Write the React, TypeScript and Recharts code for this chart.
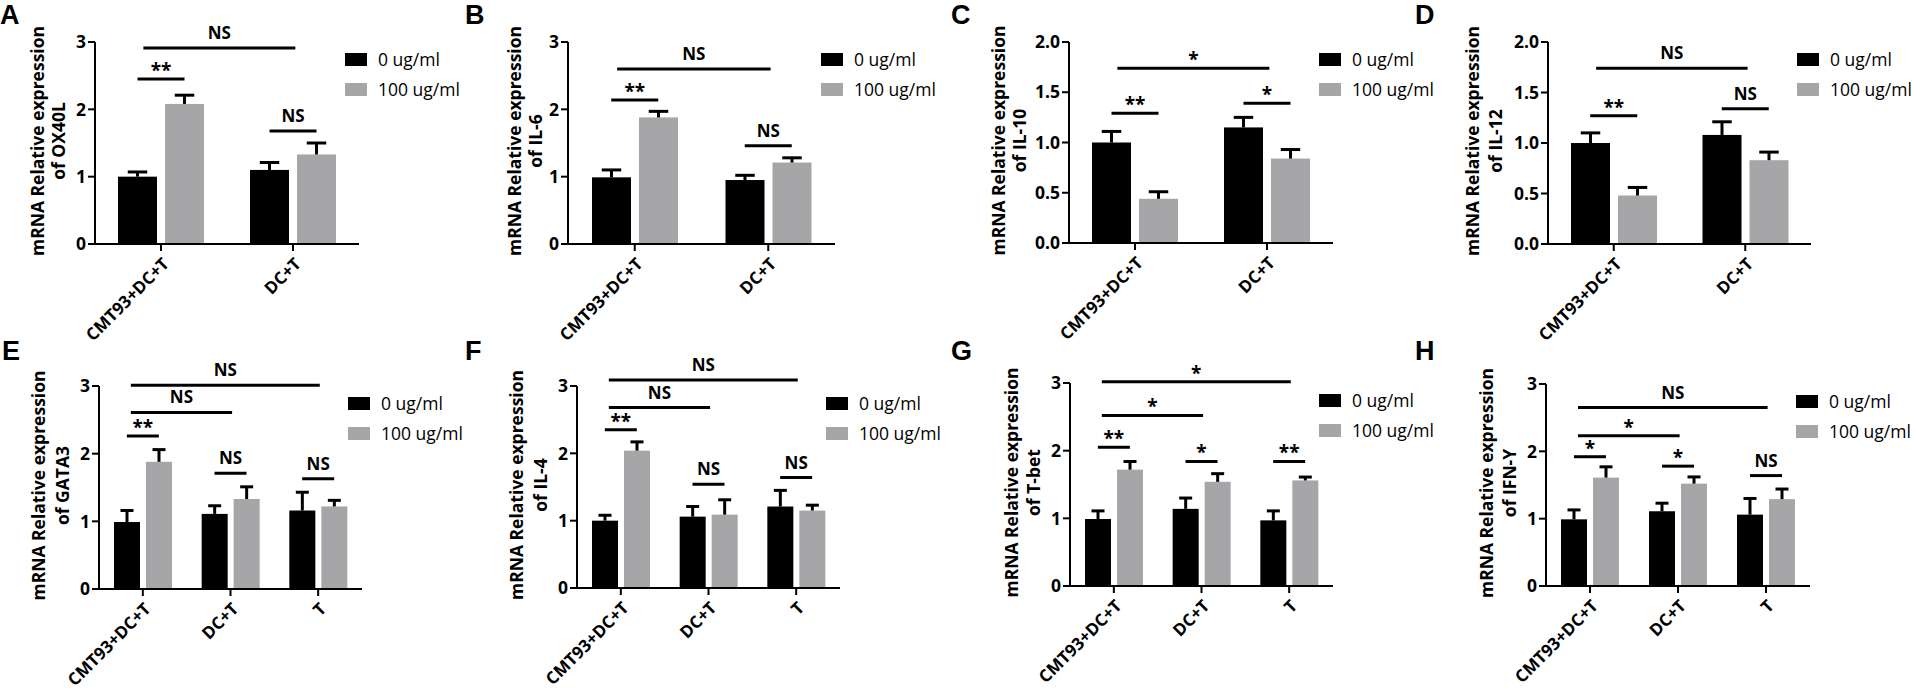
import React from "react";
import {
  BarChart,
  Bar,
  XAxis,
  YAxis,
  Legend,
  ReferenceLine,
} from "recharts";

const FONT = "'Open Sans', 'DejaVu Sans', sans-serif";
const BLACK = "#000000";
const GREY = "#a6a6a9";

const GROUPS_2 = ["CMT93+DC+T", "DC+T"];
const GROUPS_3 = ["CMT93+DC+T", "DC+T", "T"];
const DOSES = ["0 ug/ml", "100 ug/ml"];

// A  OX40L
const ox40l0 = [1.0, 1.1];
const ox40l0Sd = [0.07, 0.11];
const ox40l100 = [2.08, 1.33];
const ox40l100Sd = [0.13, 0.17];
const ox40lSig = [
  { from: 0, to: 0, y: 2.45, text: "**" },
  { from: 0, to: 1, y: 2.91, text: "NS" },
  { from: 1, to: 1, y: 1.68, text: "NS" },
];

// B  IL-6
const il6_0 = [0.99, 0.95];
const il6_0Sd = [0.11, 0.07];
const il6_100 = [1.88, 1.21];
const il6_100Sd = [0.09, 0.07];
const il6Sig = [
  { from: 0, to: 0, y: 2.14, text: "**" },
  { from: 0, to: 1, y: 2.6, text: "NS" },
  { from: 1, to: 1, y: 1.46, text: "NS" },
];

// C  IL-10
const il10_0 = [1.0, 1.15];
const il10_0Sd = [0.11, 0.1];
const il10_100 = [0.44, 0.84];
const il10_100Sd = [0.07, 0.09];
const il10Sig = [
  { from: 0, to: 0, y: 1.29, text: "**" },
  { from: 0, to: 1, y: 1.74, text: "*" },
  { from: 1, to: 1, y: 1.39, text: "*" },
];

// D  IL-12
const il12_0 = [1.0, 1.08];
const il12_0Sd = [0.1, 0.13];
const il12_100 = [0.48, 0.83];
const il12_100Sd = [0.08, 0.08];
const il12Sig = [
  { from: 0, to: 0, y: 1.27, text: "**" },
  { from: 0, to: 1, y: 1.74, text: "NS" },
  { from: 1, to: 1, y: 1.34, text: "NS" },
];

// E  GATA3
const gata3_0 = [0.99, 1.11, 1.16];
const gata3_0Sd = [0.17, 0.12, 0.27];
const gata3_100 = [1.88, 1.33, 1.22];
const gata3_100Sd = [0.18, 0.18, 0.09];
const gata3Sig = [
  { from: 0, to: 0, y: 2.26, text: "**" },
  { from: 0, to: 1, y: 2.61, text: "NS" },
  { from: 0, to: 2, y: 3.01, text: "NS" },
  { from: 1, to: 1, y: 1.71, text: "NS" },
  { from: 2, to: 2, y: 1.63, text: "NS" },
];

// F  IL-4
const il4_0 = [1.0, 1.06, 1.21];
const il4_0Sd = [0.08, 0.15, 0.24];
const il4_100 = [2.04, 1.09, 1.15];
const il4_100Sd = [0.13, 0.22, 0.08];
const il4Sig = [
  { from: 0, to: 0, y: 2.35, text: "**" },
  { from: 0, to: 1, y: 2.68, text: "NS" },
  { from: 0, to: 2, y: 3.09, text: "NS" },
  { from: 1, to: 1, y: 1.54, text: "NS" },
  { from: 2, to: 2, y: 1.64, text: "NS" },
];

// G  T-bet
const tbet0 = [0.99, 1.14, 0.97];
const tbet0Sd = [0.12, 0.16, 0.14];
const tbet100 = [1.72, 1.54, 1.56];
const tbet100Sd = [0.12, 0.12, 0.05];
const tbetSig = [
  { from: 0, to: 0, y: 2.05, text: "**" },
  { from: 0, to: 1, y: 2.52, text: "*" },
  { from: 0, to: 2, y: 3.02, text: "*" },
  { from: 1, to: 1, y: 1.84, text: "*" },
  { from: 2, to: 2, y: 1.84, text: "**" },
];

// H  IFN-Y
const ifng0 = [0.99, 1.11, 1.06];
const ifng0Sd = [0.14, 0.12, 0.24];
const ifng100 = [1.61, 1.52, 1.29];
const ifng100Sd = [0.16, 0.1, 0.15];
const ifngSig = [
  { from: 0, to: 0, y: 1.92, text: "*" },
  { from: 0, to: 1, y: 2.23, text: "*" },
  { from: 0, to: 2, y: 2.65, text: "NS" },
  { from: 1, to: 1, y: 1.78, text: "*" },
  { from: 2, to: 2, y: 1.64, text: "NS" },
];

const TICKS_3 = [0, 1, 2, 3];
const TICKS_2 = [0, 0.5, 1, 1.5, 2];

const rows = (groups, c, cSd, t, tSd) =>
  groups.map((g, i) => ({
    group: g,
    ctrl: c[i],
    ctrlSd: cSd[i],
    treat: t[i],
    treatSd: tSd[i],
  }));

const Y_W = 95;

const panels = [
  { letter: "A", lx: 0, ly: 0, gene: "OX40L", groups: GROUPS_2, data: rows(GROUPS_2, ox40l0, ox40l0Sd, ox40l100, ox40l100Sd), sig: ox40lSig, ticks: TICKS_3, title: [58, 37], plotLeft: 95, plotTop: 42, plotW: 264, plotH: 202, chartTop: 0, chartH: 354 },
  { letter: "B", lx: 465, ly: 0, gene: "IL-6", groups: GROUPS_2, data: rows(GROUPS_2, il6_0, il6_0Sd, il6_100, il6_100Sd), sig: il6Sig, ticks: TICKS_3, title: [54, 33], plotLeft: 568, plotTop: 42, plotW: 267, plotH: 202, chartTop: 0, chartH: 354 },
  { letter: "C", lx: 951, ly: 0, gene: "IL-10", groups: GROUPS_2, data: rows(GROUPS_2, il10_0, il10_0Sd, il10_100, il10_100Sd), sig: il10Sig, ticks: TICKS_2, title: [71, 50], plotLeft: 1069, plotTop: 42, plotW: 264, plotH: 201, chartTop: 0, chartH: 354 },
  { letter: "D", lx: 1415, ly: 0, gene: "IL-12", groups: GROUPS_2, data: rows(GROUPS_2, il12_0, il12_0Sd, il12_100, il12_100Sd), sig: il12Sig, ticks: TICKS_2, title: [76, 53], plotLeft: 1548, plotTop: 42, plotW: 263, plotH: 202, chartTop: 0, chartH: 354 },
  { letter: "E", lx: 2, ly: 336, gene: "GATA3", groups: GROUPS_3, data: rows(GROUPS_3, gata3_0, gata3_0Sd, gata3_100, gata3_100Sd), sig: gata3Sig, ticks: TICKS_3, title: [61, 37], plotLeft: 99, plotTop: 386, plotW: 263, plotH: 203, chartTop: 340, chartH: 353 },
  { letter: "F", lx: 465, ly: 336, gene: "IL-4", groups: GROUPS_3, data: rows(GROUPS_3, il4_0, il4_0Sd, il4_100, il4_100Sd), sig: il4Sig, ticks: TICKS_3, title: [61, 37], plotLeft: 577, plotTop: 386, plotW: 263, plotH: 202, chartTop: 340, chartH: 353 },
  { letter: "G", lx: 951, ly: 336, gene: "T-bet", groups: GROUPS_3, data: rows(GROUPS_3, tbet0, tbet0Sd, tbet100, tbet100Sd), sig: tbetSig, ticks: TICKS_3, title: [59, 37], plotLeft: 1070, plotTop: 383, plotW: 263, plotH: 203, chartTop: 340, chartH: 353 },
  { letter: "H", lx: 1415, ly: 336, gene: "IFN-Y", groups: GROUPS_3, data: rows(GROUPS_3, ifng0, ifng0Sd, ifng100, ifng100Sd), sig: ifngSig, ticks: TICKS_3, title: [60, 37], plotLeft: 1546, plotTop: 384, plotW: 264, plotH: 202, chartTop: 340, chartH: 353 },
];

// bar with an upward-only SD whisker, length taken from the bar's own px/unit
const barWithSd = (key, sdKey) => (props) => {
  const { x, y, width, height, fill, payload } = props;
  const v = payload[key];
  const err = v > 0 ? (payload[sdKey] * height) / v : 0;
  const cx = x + width / 2;
  const cap = width / 2;
  return (
    <g>
      <rect x={x} y={y} width={width} height={height} fill={fill} />
      <line x1={cx} y1={y} x2={cx} y2={y - err} stroke={BLACK} strokeWidth={3} />
      <line x1={cx - cap / 2} y1={y - err} x2={cx + cap / 2} y2={y - err} stroke={BLACK} strokeWidth={3} />
    </g>
  );
};

const bracket = (s, d) => (props) => {
  const { x1, x2, y1 } = props;
  let xa = x1 - d;
  let xb = x1 + d;
  if (s.from !== s.to) {
    xa = x1 - 0.75 * d;
    xb = x2 + 0.1 * d;
  }
  const stars = s.text.indexOf("*") >= 0;
  return (
    <g>
      <line x1={xa} y1={y1} x2={xb} y2={y1} stroke={BLACK} strokeWidth={3} />
      <text
        x={(xa + xb) / 2}
        y={y1 - (stars ? 2 : 9)}
        textAnchor="middle"
        fontFamily={FONT}
        fontWeight={700}
        fontSize={stars ? 19 : 17}
        fill={BLACK}
      >
        {s.text}
      </text>
    </g>
  );
};

const XTick = ({ x, y, payload }) => {
  const tx = x + 9;
  const ty = y + 12;
  return (
    <text
      x={tx}
      y={ty}
      transform={`rotate(-45 ${tx} ${ty})`}
      textAnchor="end"
      fontFamily={FONT}
      fontWeight={700}
      fontSize={17}
      fill={BLACK}
    >
      {payload.value}
    </text>
  );
};

const yTitle = (gene, off) => (props) => {
  const vb = props.viewBox || {};
  const right = (vb.x || 0) + (vb.width || Y_W);
  const cy = (vb.y || 0) + (vb.height || 0) / 2 - 2;
  const style = { fontFamily: FONT, fontWeight: 700, fontSize: 17.5, fill: BLACK };
  const x1 = right - off[0];
  const x2 = right - off[1];
  return (
    <g>
      <text x={x1} y={cy} transform={`rotate(-90 ${x1} ${cy})`} textAnchor="middle" dominantBaseline="central" style={style}>
        mRNA Relative expression
      </text>
      <text x={x2} y={cy} transform={`rotate(-90 ${x2} ${cy})`} textAnchor="middle" dominantBaseline="central" style={style}>
        of {gene}
      </text>
    </g>
  );
};

const LegendBox = ({ payload }) => (
  <div style={{ fontFamily: FONT, fontSize: 17.5, color: BLACK }}>
    {(payload || []).map((e) => (
      <div key={e.value} style={{ display: "flex", alignItems: "center", height: 30 }}>
        <span style={{ display: "inline-block", width: 22, height: 13, background: e.color, marginRight: 11 }} />
        <span style={{ whiteSpace: "nowrap" }}>{e.value}</span>
      </div>
    ))}
  </div>
);

function Panel({ p }) {
  const three = p.groups.length === 3;
  const barSize = three ? 26 : 39;
  const gap = three ? 6 : 8;
  const d = (barSize + gap) / 2;
  const marginTop = p.plotTop - p.chartTop;
  const xH = p.chartH - marginTop - p.plotH;
  const width = Y_W + p.plotW + 160;
  const yMax = p.ticks[p.ticks.length - 1];
  return (
    <>
      <div
        style={{
          position: "absolute",
          left: p.lx,
          top: p.ly,
          fontFamily: "'Liberation Sans', Arial, sans-serif",
          fontWeight: 700,
          fontSize: 27,
          lineHeight: 1.15,
        }}
      >
        {p.letter}
      </div>
      <div style={{ position: "absolute", left: p.plotLeft - Y_W, top: p.chartTop }}>
        <BarChart
          width={width}
          height={p.chartH}
          data={p.data}
          margin={{ top: marginTop, right: width - Y_W - p.plotW, bottom: 0, left: 0 }}
          barSize={barSize}
          barGap={gap}
        >
          <XAxis
            dataKey="group"
            interval={0}
            height={xH}
            tickSize={7}
            tick={<XTick />}
            axisLine={{ stroke: BLACK, strokeWidth: 2 }}
            tickLine={{ stroke: BLACK, strokeWidth: 2 }}
          />
          <YAxis
            domain={[0, yMax]}
            ticks={p.ticks}
            width={Y_W}
            tickSize={7}
            tickFormatter={(v) => (yMax === 3 ? String(v) : v.toFixed(1))}
            tick={{ fill: BLACK, fontSize: 17.5, fontWeight: 700, fontFamily: FONT }}
            axisLine={{ stroke: BLACK, strokeWidth: 2 }}
            tickLine={{ stroke: BLACK, strokeWidth: 2 }}
            label={{ content: yTitle(p.gene, p.title) }}
          />
          <Bar dataKey="ctrl" name={DOSES[0]} fill={BLACK} shape={barWithSd("ctrl", "ctrlSd")} isAnimationActive={false} />
          <Bar dataKey="treat" name={DOSES[1]} fill={GREY} shape={barWithSd("treat", "treatSd")} isAnimationActive={false} />
          {p.sig.map((s, i) => (
            <ReferenceLine
              key={i}
              ifOverflow="visible"
              segment={[
                { x: p.groups[s.from], y: s.y },
                { x: p.groups[s.to], y: s.y },
              ]}
              shape={bracket(s, d)}
            />
          ))}
          <Legend
            layout="vertical"
            align="center"
            verticalAlign="middle"
            content={<LegendBox />}
            wrapperStyle={{ left: Y_W + p.plotW - 14, top: marginTop + 2, width: 150, height: "auto" }}
          />
        </BarChart>
      </div>
    </>
  );
}

export default function App() {
  return (
    <div
      style={{
        position: "absolute",
        left: 0,
        top: 0,
        width: 1915,
        height: 693,
        background: "#ffffff",
        overflow: "hidden",
      }}
    >
      {panels.map((p) => (
        <Panel key={p.letter} p={p} />
      ))}
    </div>
  );
}
